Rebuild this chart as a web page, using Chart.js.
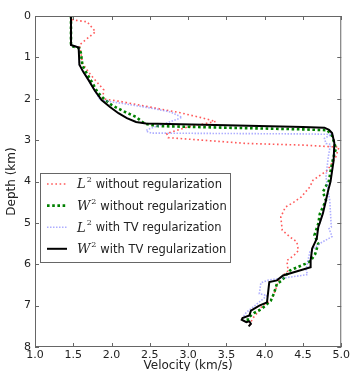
<!DOCTYPE html>
<html>
<head>
<meta charset="utf-8">
<script src="https://cdn.jsdelivr.net/npm/chart.js@4.4.0/dist/chart.umd.min.js"></script>
<style>
  html, body { margin: 0; padding: 0; background: #fff; }
</style>
</head>
<body>
<canvas id="velocidadChart" width="352" height="371"></canvas>
<script>
// --- Datos ---
const X_TICKS = [1.0, 1.5, 2.0, 2.5, 3.0, 3.5, 4.0, 4.5, 5.0];
const Y_TICKS = [0, 1, 2, 3, 4, 5, 6, 7, 8];

const L2_SIN_VEL = [1.47, 1.47, 1.51, 1.68, 1.79, 1.58, 1.60, 1.62, 1.73, 1.90, 1.88, 2.10, 2.50, 2.90, 3.20, 3.36, 3.00, 2.72, 2.74, 3.76, 4.50, 4.97, 4.93, 4.82, 4.63, 4.59, 4.48, 4.38, 4.27, 4.21, 4.23, 4.33, 4.42, 4.44, 4.38, 4.29, 4.30, 4.31, 4.25, 4.18, 4.14, 4.08, 3.97, 3.91, 3.84, 3.80];
const L2_SIN_PROF = [0.00, 0.08, 0.10, 0.14, 0.38, 0.70, 0.90, 1.15, 1.43, 1.79, 2.00, 2.06, 2.20, 2.34, 2.47, 2.55, 2.68, 2.84, 2.94, 3.08, 3.12, 3.17, 3.40, 3.73, 3.97, 4.13, 4.37, 4.50, 4.62, 4.86, 5.18, 5.34, 5.46, 5.67, 5.79, 5.91, 6.07, 6.15, 6.25, 6.39, 6.63, 6.88, 7.00, 7.16, 7.32, 7.48];

const W2_SIN_VEL = [1.47, 1.47, 1.58, 1.60, 1.62, 1.68, 1.75, 1.82, 1.90, 2.00, 2.09, 2.20, 2.32, 2.43, 2.60, 3.50, 4.50, 4.82, 4.88, 4.91, 4.93, 4.90, 4.87, 4.84, 4.76, 4.80, 4.72, 4.70, 4.65, 4.70, 4.66, 4.60, 4.53, 4.33, 4.22, 4.16, 4.12, 4.08, 3.96, 3.86, 3.78, 3.78];
const W2_SIN_PROF = [0.00, 0.72, 0.78, 0.90, 1.20, 1.40, 1.62, 1.85, 2.00, 2.15, 2.24, 2.34, 2.44, 2.60, 2.66, 2.70, 2.74, 2.76, 2.90, 3.07, 3.20, 3.40, 3.65, 3.98, 4.25, 4.46, 4.78, 5.02, 5.30, 5.50, 5.75, 5.92, 5.99, 6.15, 6.40, 6.47, 6.71, 6.88, 7.08, 7.18, 7.30, 7.40];

const L2_TV_VEL = [1.47, 1.47, 1.57, 1.58, 1.63, 1.70, 1.78, 1.85, 2.20, 2.50, 2.77, 2.92, 2.70, 2.47, 2.45, 2.52, 3.50, 4.50, 4.87, 4.78, 4.80, 4.86, 4.83, 4.80, 4.85, 4.87, 4.84, 4.88, 4.72, 4.59, 4.54, 4.56, 4.22, 4.05, 3.95, 3.93, 4.03, 3.82, 3.76, 3.73, 3.74];
const L2_TV_PROF = [0.00, 0.70, 0.76, 1.18, 1.35, 1.55, 1.80, 2.03, 2.13, 2.22, 2.32, 2.45, 2.60, 2.74, 2.78, 2.83, 2.84, 2.85, 2.86, 2.96, 3.08, 3.10, 3.41, 3.89, 4.46, 5.10, 5.14, 5.33, 5.50, 5.70, 6.13, 6.25, 6.34, 6.38, 6.45, 6.71, 6.76, 7.08, 7.16, 7.24, 7.30];

const W2_TV_VEL = [1.47, 1.47, 1.57, 1.58, 1.63, 1.70, 1.78, 1.87, 1.98, 2.09, 2.20, 2.32, 2.45, 3.50, 4.50, 4.78, 4.84, 4.88, 4.91, 4.90, 4.88, 4.86, 4.83, 4.80, 4.76, 4.72, 4.70, 4.68, 4.65, 4.62, 4.60, 4.60, 4.24, 4.16, 4.06, 4.03, 3.93, 3.82, 3.80, 3.71, 3.70, 3.76, 3.80, 3.82, 3.79];
const W2_TV_PROF = [0.00, 0.70, 0.76, 1.18, 1.35, 1.55, 1.80, 2.03, 2.20, 2.35, 2.47, 2.56, 2.60, 2.64, 2.68, 2.70, 2.75, 2.83, 3.07, 3.50, 3.75, 4.00, 4.21, 4.46, 4.77, 5.00, 5.10, 5.38, 5.50, 5.62, 5.91, 6.07, 6.27, 6.39, 6.43, 6.92, 7.00, 7.12, 7.24, 7.30, 7.34, 7.40, 7.38, 7.44, 7.50];

const LETRAS = ['L', 'W', 'L', 'W'];
const TEXTOS = ['without regularization', 'without regularization', 'with TV regularization', 'with TV regularization'];

const puntos = (vel, prof) => vel.map((v, i) => ({ x: v, y: prof[i] }));

// estilos de cada serie (mismo orden que la leyenda)
const ESTILOS = [
    { color: 'rgba(255, 60, 60, 0.85)', width: 1.6, dash: [1.6, 2.6] },
    { color: '#008000', width: 2.6, dash: [2.6, 2.6] },
    { color: 'rgba(120, 120, 255, 0.6)', width: 1.6, dash: [1.5, 1.5] },
    { color: '#000000', width: 2, dash: [] }
];
const SERIES = [
    puntos(L2_SIN_VEL, L2_SIN_PROF),
    puntos(W2_SIN_VEL, W2_SIN_PROF),
    puntos(L2_TV_VEL, L2_TV_PROF),
    puntos(W2_TV_VEL, W2_TV_PROF)
];

// --- Marco con ticks hacia adentro en los cuatro lados ---
const marcoPlugin = {
    id: 'marco',
    afterDatasetsDraw(chart) {
        const { ctx, chartArea: a, scales: { x, y } } = chart;
        ctx.save();
        ctx.strokeStyle = '#666';
        ctx.lineWidth = 1;
        ctx.setLineDash([]);
        ctx.strokeRect(a.left + 0.5, a.top + 0.5, a.right - a.left - 1, a.bottom - a.top - 1);
        ctx.beginPath();
        X_TICKS.forEach(v => {
            const px = Math.round(x.getPixelForValue(v)) + 0.5;
            ctx.moveTo(px, a.bottom); ctx.lineTo(px, a.bottom - 4);
            ctx.moveTo(px, a.top); ctx.lineTo(px, a.top + 4);
        });
        Y_TICKS.forEach(v => {
            const py = Math.round(y.getPixelForValue(v)) + 0.5;
            ctx.moveTo(a.left, py); ctx.lineTo(a.left + 4, py);
            ctx.moveTo(a.right, py); ctx.lineTo(a.right - 4, py);
        });
        ctx.stroke();
        ctx.restore();
    }
};

// --- Leyenda dentro del área (L^2 / W^2 en cursiva) ---
const leyendaPlugin = {
    id: 'leyenda',
    afterDraw(chart) {
        const ctx = chart.ctx;
        ctx.save();
        ctx.fillStyle = '#fff';
        ctx.strokeStyle = '#666';
        ctx.lineWidth = 1;
        ctx.fillRect(40.5, 173.5, 190, 89);
        ctx.strokeRect(40.5, 173.5, 190, 89);
        ESTILOS.forEach((s, i) => {
            const yy = 184 + i * 21.6;
            ctx.beginPath();
            ctx.strokeStyle = s.color;
            ctx.lineWidth = s.width;
            ctx.setLineDash(s.dash);
            ctx.moveTo(47, yy); ctx.lineTo(67, yy);
            ctx.stroke();
            ctx.setLineDash([]);
            ctx.fillStyle = '#222';
            ctx.textBaseline = 'middle';
            ctx.font = 'italic 13px "DejaVu Serif"';
            ctx.fillText(LETRAS[i], 77, yy + 1);
            const w = ctx.measureText(LETRAS[i]).width;
            ctx.font = '8px "DejaVu Serif"';
            ctx.fillText('2', 77 + w + 1, yy - 4);
            ctx.font = '11.5px "DejaVu Sans"';
            ctx.fillText(TEXTOS[i], 77 + w + 10, yy + 1);
        });
        ctx.restore();
    }
};

const ctxVel = document.getElementById('velocidadChart').getContext('2d');
new Chart(ctxVel, {
    type: 'scatter',
    data: {
        datasets: SERIES.map((d, i) => ({
            data: d,
            showLine: true,
            fill: false,
            pointRadius: 0,
            borderColor: ESTILOS[i].color,
            borderWidth: ESTILOS[i].width,
            borderDash: ESTILOS[i].dash,
            order: 4 - i
        }))
    },
    options: {
        responsive: false,
        animation: false,
        layout: { padding: { top: 16, right: 5, left: 0, bottom: 0 } },
        plugins: { legend: { display: false }, tooltip: { enabled: false } },
        scales: {
            x: {
                type: 'linear', min: 1, max: 5,
                afterBuildTicks: s => { s.ticks = X_TICKS.map(v => ({ value: v })); },
                afterFit: s => { s.height = 24; },
                grid: { display: false, drawTicks: false },
                border: { display: false },
                ticks: { padding: 2, color: '#222', font: { family: 'DejaVu Sans', size: 11 }, maxRotation: 0, callback: v => v.toFixed(1) },
                title: { display: true, text: 'Velocity (km/s)', color: '#222', font: { family: 'DejaVu Sans', size: 12, lineHeight: 0.8 }, padding: 0 }
            },
            y: {
                type: 'linear', min: 0, max: 8, reverse: true,
                afterBuildTicks: s => { s.ticks = Y_TICKS.map(v => ({ value: v })); },
                afterFit: s => { s.width = 35; },
                grid: { display: false, drawTicks: false },
                border: { display: false },
                ticks: { padding: 4, color: '#222', font: { family: 'DejaVu Sans', size: 11 } },
                title: { display: true, text: 'Depth (km)', color: '#222', font: { family: 'DejaVu Sans', size: 12, lineHeight: 1 }, padding: { top: 6, bottom: 0 } }
            }
        }
    },
    plugins: [marcoPlugin, leyendaPlugin]
});
</script>
</body>
</html>
